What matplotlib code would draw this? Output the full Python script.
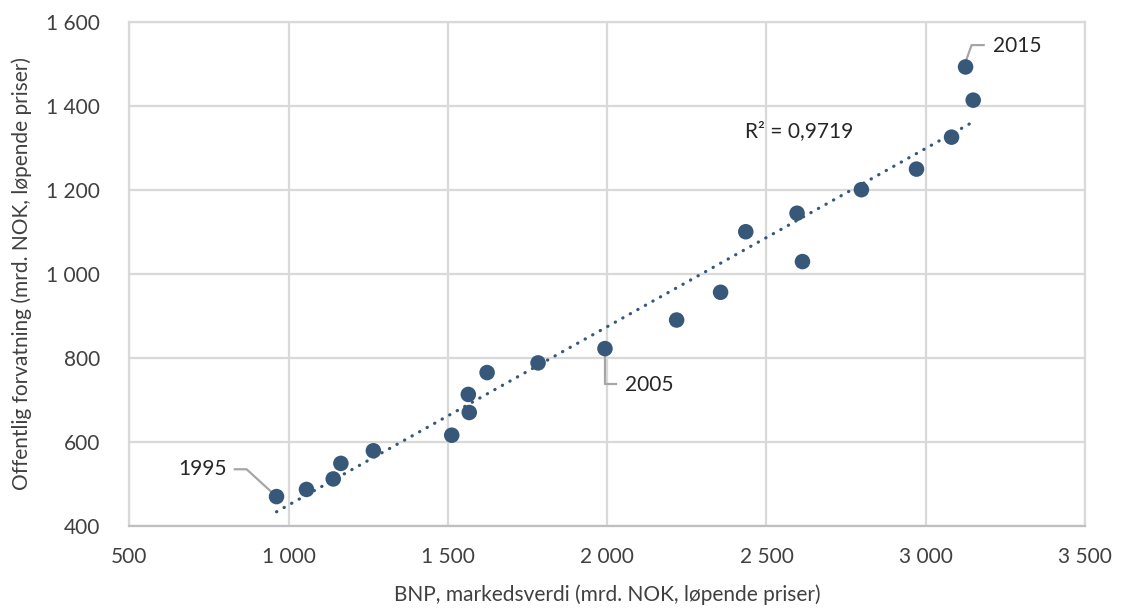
import numpy as np
import matplotlib.pyplot as plt
from matplotlib.ticker import FuncFormatter, MultipleLocator

plt.rcParams['font.family'] = ['Lato', 'DejaVu Sans']

# BNP (x) vs offentlig forvaltning (y), mrd. NOK, 1995-2015
years = list(range(1995, 2016))
bnp = [962, 1056, 1140, 1164, 1266, 1512, 1567, 1564, 1623, 1783, 1993,
       2218, 2356, 2613, 2435, 2596, 2798, 2971, 3081, 3149, 3125]
off = [470, 487, 512, 549, 579, 616, 670, 713, 765, 788, 822,
       890, 956, 1029, 1100, 1144, 1200, 1249, 1325, 1413, 1492]
labelled = {1995: 'left', 2005: 'down', 2015: 'up'}
r2_text = 'R² = 0,9719'

dot_color = '#375878'
grid_color = '#d9d9d9'
text_color = '#404040'
fs = 15

fig = plt.figure(figsize=(11.21, 6.12), dpi=100)
ax = fig.add_axes([0.1154, 0.1405, 0.8525, 0.8243])

x = np.array(bnp, dtype=float)
y = np.array(off, dtype=float)

# linear trendline, spans min..max of x like Excel
k, m = np.polyfit(x, y, 1)
xt = np.array([x.min(), x.max()])
ax.plot(xt, k * xt + m, color=dot_color, linewidth=2.3,
        linestyle=(0, (0.1, 2.6)), dash_capstyle='round', zorder=2)

ax.scatter(x, y, s=125, color=dot_color, edgecolors='none', zorder=3)

ax.set_xlim(500, 3500)
ax.set_ylim(400, 1600)
ax.xaxis.set_major_locator(MultipleLocator(500))
ax.yaxis.set_major_locator(MultipleLocator(200))
fmt = FuncFormatter(lambda v, p: f'{v:,.0f}'.replace(',', ' '))
ax.xaxis.set_major_formatter(fmt)
ax.yaxis.set_major_formatter(fmt)
ax.grid(True, color=grid_color, linewidth=1.6, zorder=0)
ax.set_axisbelow(True)
for s in ax.spines.values():
    s.set_color(grid_color)
    s.set_linewidth(1.6)
ax.spines['bottom'].set_color('#bfbfbf')
ax.tick_params(length=0, labelsize=fs, colors=text_color)
ax.tick_params(axis='x', pad=15)
ax.tick_params(axis='y', pad=21)

ax.set_xlabel('BNP, markedsverdi (mrd. NOK, løpende priser)', fontsize=fs,
              color=text_color, labelpad=13)
ax.set_ylabel('Offentlig forvatning (mrd. NOK, løpende priser)', fontsize=fs,
              color=text_color, labelpad=10)

# year labels with leader lines
lc = '#a6a6a6'
for yr, where in labelled.items():
    i = years.index(yr)
    px, py = bnp[i], off[i]
    if where == 'left':
        ax.plot([px, px - 94, px - 131], [py, py + 65, py + 65], color=lc, lw=1.6, zorder=2)
        ax.text(px - 157, py + 65, str(yr), ha='right', va='center', fontsize=fs, color='#262626')
    elif where == 'down':
        ax.plot([px, px, px + 36], [py, py - 85, py - 85], color=lc, lw=1.6, zorder=2)
        ax.text(px + 62, py - 87, str(yr), ha='left', va='center', fontsize=fs, color='#262626')
    else:
        ax.plot([px, px + 19, px + 57], [py + 12, py + 52, py + 52], color=lc, lw=1.6, zorder=2)
        ax.text(px + 85, py + 50, str(yr), ha='left', va='center', fontsize=fs, color='#262626')

ax.text(2432, 1339, r2_text, ha='left', va='center', fontsize=fs, color='#262626')

fig.savefig('out.png', dpi=100)
